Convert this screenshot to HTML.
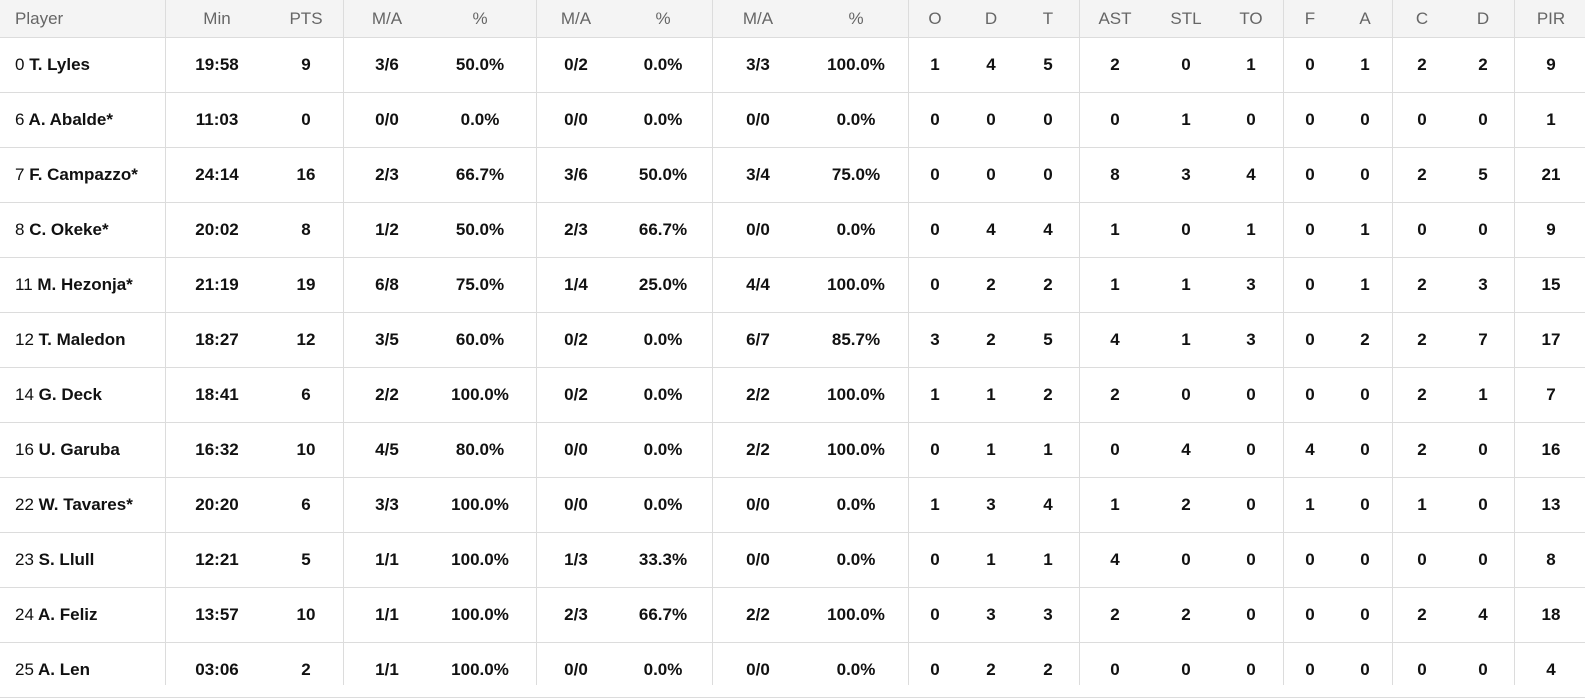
<!DOCTYPE html>
<html><head><meta charset="utf-8"><style>
body{margin:0;width:1585px;height:685px;overflow:hidden;background:#fff;font-family:"Liberation Sans",sans-serif;}
.r{position:absolute;left:0;width:1585px;height:54px;border-bottom:1px solid #dcdcdc;}
.h{background:#f4f4f4;height:37px;top:0;color:#666;font-weight:normal;}
.r span{position:absolute;top:50%;transform:translate(-50%,-50%);font-size:17px;white-space:nowrap;}
.b span{font-weight:bold;color:#111;}
.r span.p{left:15px;transform:translate(0,-50%);}
.p i{font-style:normal;font-weight:normal;}
.v{position:absolute;top:0;height:685px;border-left:1px solid #dcdcdc;}
.c1{left:217px}.c2{left:306px}.c3{left:387px}.c4{left:480px}.c5{left:576px}.c6{left:663px}.c7{left:758px}.c8{left:856px}.c9{left:935px}.c10{left:991px}.c11{left:1048px}.c12{left:1115px}.c13{left:1186px}.c14{left:1251px}.c15{left:1310px}.c16{left:1365px}.c17{left:1422px}.c18{left:1483px}.c19{left:1551px}
</style></head><body>
<div class="r h"><span class="p">Player</span><span class="c1">Min</span><span class="c2">PTS</span><span class="c3">M/A</span><span class="c4">%</span><span class="c5">M/A</span><span class="c6">%</span><span class="c7">M/A</span><span class="c8">%</span><span class="c9">O</span><span class="c10">D</span><span class="c11">T</span><span class="c12">AST</span><span class="c13">STL</span><span class="c14">TO</span><span class="c15">F</span><span class="c16">A</span><span class="c17">C</span><span class="c18">D</span><span class="c19">PIR</span></div>
<div class="r b" style="top:38px"><span class="p"><i>0</i> T. Lyles</span><span class="c1">19:58</span><span class="c2">9</span><span class="c3">3/6</span><span class="c4">50.0%</span><span class="c5">0/2</span><span class="c6">0.0%</span><span class="c7">3/3</span><span class="c8">100.0%</span><span class="c9">1</span><span class="c10">4</span><span class="c11">5</span><span class="c12">2</span><span class="c13">0</span><span class="c14">1</span><span class="c15">0</span><span class="c16">1</span><span class="c17">2</span><span class="c18">2</span><span class="c19">9</span></div>
<div class="r b" style="top:93px"><span class="p"><i>6</i> A. Abalde*</span><span class="c1">11:03</span><span class="c2">0</span><span class="c3">0/0</span><span class="c4">0.0%</span><span class="c5">0/0</span><span class="c6">0.0%</span><span class="c7">0/0</span><span class="c8">0.0%</span><span class="c9">0</span><span class="c10">0</span><span class="c11">0</span><span class="c12">0</span><span class="c13">1</span><span class="c14">0</span><span class="c15">0</span><span class="c16">0</span><span class="c17">0</span><span class="c18">0</span><span class="c19">1</span></div>
<div class="r b" style="top:148px"><span class="p"><i>7</i> F. Campazzo*</span><span class="c1">24:14</span><span class="c2">16</span><span class="c3">2/3</span><span class="c4">66.7%</span><span class="c5">3/6</span><span class="c6">50.0%</span><span class="c7">3/4</span><span class="c8">75.0%</span><span class="c9">0</span><span class="c10">0</span><span class="c11">0</span><span class="c12">8</span><span class="c13">3</span><span class="c14">4</span><span class="c15">0</span><span class="c16">0</span><span class="c17">2</span><span class="c18">5</span><span class="c19">21</span></div>
<div class="r b" style="top:203px"><span class="p"><i>8</i> C. Okeke*</span><span class="c1">20:02</span><span class="c2">8</span><span class="c3">1/2</span><span class="c4">50.0%</span><span class="c5">2/3</span><span class="c6">66.7%</span><span class="c7">0/0</span><span class="c8">0.0%</span><span class="c9">0</span><span class="c10">4</span><span class="c11">4</span><span class="c12">1</span><span class="c13">0</span><span class="c14">1</span><span class="c15">0</span><span class="c16">1</span><span class="c17">0</span><span class="c18">0</span><span class="c19">9</span></div>
<div class="r b" style="top:258px"><span class="p"><i>11</i> M. Hezonja*</span><span class="c1">21:19</span><span class="c2">19</span><span class="c3">6/8</span><span class="c4">75.0%</span><span class="c5">1/4</span><span class="c6">25.0%</span><span class="c7">4/4</span><span class="c8">100.0%</span><span class="c9">0</span><span class="c10">2</span><span class="c11">2</span><span class="c12">1</span><span class="c13">1</span><span class="c14">3</span><span class="c15">0</span><span class="c16">1</span><span class="c17">2</span><span class="c18">3</span><span class="c19">15</span></div>
<div class="r b" style="top:313px"><span class="p"><i>12</i> T. Maledon</span><span class="c1">18:27</span><span class="c2">12</span><span class="c3">3/5</span><span class="c4">60.0%</span><span class="c5">0/2</span><span class="c6">0.0%</span><span class="c7">6/7</span><span class="c8">85.7%</span><span class="c9">3</span><span class="c10">2</span><span class="c11">5</span><span class="c12">4</span><span class="c13">1</span><span class="c14">3</span><span class="c15">0</span><span class="c16">2</span><span class="c17">2</span><span class="c18">7</span><span class="c19">17</span></div>
<div class="r b" style="top:368px"><span class="p"><i>14</i> G. Deck</span><span class="c1">18:41</span><span class="c2">6</span><span class="c3">2/2</span><span class="c4">100.0%</span><span class="c5">0/2</span><span class="c6">0.0%</span><span class="c7">2/2</span><span class="c8">100.0%</span><span class="c9">1</span><span class="c10">1</span><span class="c11">2</span><span class="c12">2</span><span class="c13">0</span><span class="c14">0</span><span class="c15">0</span><span class="c16">0</span><span class="c17">2</span><span class="c18">1</span><span class="c19">7</span></div>
<div class="r b" style="top:423px"><span class="p"><i>16</i> U. Garuba</span><span class="c1">16:32</span><span class="c2">10</span><span class="c3">4/5</span><span class="c4">80.0%</span><span class="c5">0/0</span><span class="c6">0.0%</span><span class="c7">2/2</span><span class="c8">100.0%</span><span class="c9">0</span><span class="c10">1</span><span class="c11">1</span><span class="c12">0</span><span class="c13">4</span><span class="c14">0</span><span class="c15">4</span><span class="c16">0</span><span class="c17">2</span><span class="c18">0</span><span class="c19">16</span></div>
<div class="r b" style="top:478px"><span class="p"><i>22</i> W. Tavares*</span><span class="c1">20:20</span><span class="c2">6</span><span class="c3">3/3</span><span class="c4">100.0%</span><span class="c5">0/0</span><span class="c6">0.0%</span><span class="c7">0/0</span><span class="c8">0.0%</span><span class="c9">1</span><span class="c10">3</span><span class="c11">4</span><span class="c12">1</span><span class="c13">2</span><span class="c14">0</span><span class="c15">1</span><span class="c16">0</span><span class="c17">1</span><span class="c18">0</span><span class="c19">13</span></div>
<div class="r b" style="top:533px"><span class="p"><i>23</i> S. Llull</span><span class="c1">12:21</span><span class="c2">5</span><span class="c3">1/1</span><span class="c4">100.0%</span><span class="c5">1/3</span><span class="c6">33.3%</span><span class="c7">0/0</span><span class="c8">0.0%</span><span class="c9">0</span><span class="c10">1</span><span class="c11">1</span><span class="c12">4</span><span class="c13">0</span><span class="c14">0</span><span class="c15">0</span><span class="c16">0</span><span class="c17">0</span><span class="c18">0</span><span class="c19">8</span></div>
<div class="r b" style="top:588px"><span class="p"><i>24</i> A. Feliz</span><span class="c1">13:57</span><span class="c2">10</span><span class="c3">1/1</span><span class="c4">100.0%</span><span class="c5">2/3</span><span class="c6">66.7%</span><span class="c7">2/2</span><span class="c8">100.0%</span><span class="c9">0</span><span class="c10">3</span><span class="c11">3</span><span class="c12">2</span><span class="c13">2</span><span class="c14">0</span><span class="c15">0</span><span class="c16">0</span><span class="c17">2</span><span class="c18">4</span><span class="c19">18</span></div>
<div class="r b" style="top:643px"><span class="p"><i>25</i> A. Len</span><span class="c1">03:06</span><span class="c2">2</span><span class="c3">1/1</span><span class="c4">100.0%</span><span class="c5">0/0</span><span class="c6">0.0%</span><span class="c7">0/0</span><span class="c8">0.0%</span><span class="c9">0</span><span class="c10">2</span><span class="c11">2</span><span class="c12">0</span><span class="c13">0</span><span class="c14">0</span><span class="c15">0</span><span class="c16">0</span><span class="c17">0</span><span class="c18">0</span><span class="c19">4</span></div>
<div class="v" style="left:165px"></div><div class="v" style="left:343px"></div><div class="v" style="left:536px"></div><div class="v" style="left:712px"></div><div class="v" style="left:908px"></div><div class="v" style="left:1079px"></div><div class="v" style="left:1283px"></div><div class="v" style="left:1392px"></div><div class="v" style="left:1514px"></div>
</body></html>
